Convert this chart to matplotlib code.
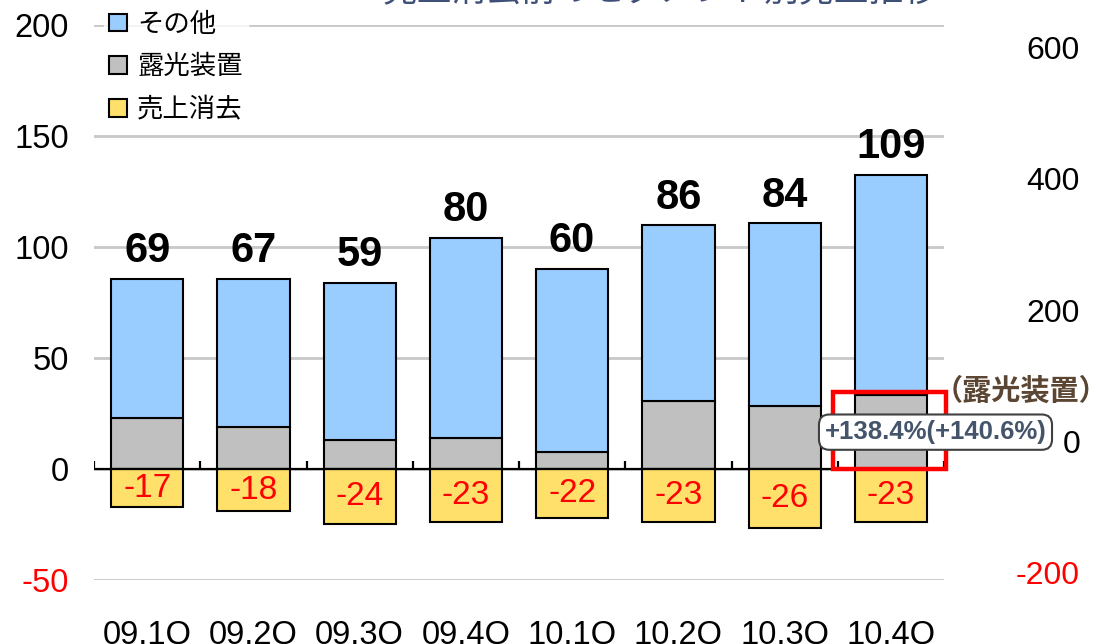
import matplotlib
matplotlib.use("Agg")
import matplotlib.pyplot as plt
import numpy as np
from matplotlib.patches import Patch, Rectangle

plt.rcParams['font.family'] = ['Liberation Sans', 'Noto Sans CJK JP', 'DejaVu Sans']

categories = ["09.1Q", "09.2Q", "09.3Q", "09.4Q", "10.1Q", "10.2Q", "10.3Q", "10.4Q"]
exposure = [22.9, 19.1, 13.2, 14.1, 7.8, 30.5, 28.4, 33.2]
other = [62.9, 66.7, 70.8, 90.1, 82.4, 79.2, 82.2, 99.2]
elimination = [-17.2, -19.1, -24.8, -23.8, -22.1, -23.8, -26.8, -23.8]
total_labels = ["69", "67", "59", "80", "60", "86", "84", "109"]
elim_labels = ["-17", "-18", "-24", "-23", "-22", "-23", "-26", "-23"]
series_names = ["その他", "露光装置", "売上消去"]
left_ticks = [-50, 0, 50, 100, 150, 200]
right_ticks = [-200, 0, 200, 400, 600]
growth_text = "+138.4%(+140.6%)"

c_other = "#99CCFF"
c_exp = "#C0C0C0"
c_elim = "#FFE06A"

fig = plt.figure(figsize=(11, 6.44), dpi=100)
ax = fig.add_axes([94/1100, 64/644, 850/1100, 555/644])
x = np.arange(len(categories))
w = 0.68

ax.bar(x, exposure, w, color=c_exp, edgecolor="black", linewidth=1.5, zorder=3)
ax.bar(x, other, w, bottom=exposure, color=c_other, edgecolor="black", linewidth=1.5, zorder=3)
ax.bar(x, elimination, w, color=c_elim, edgecolor="black", linewidth=1.5, zorder=3)

ax.set_xlim(-0.5, len(categories) - 0.5)
ax.set_ylim(-50, 200)
ax.set_yticks(left_ticks)
ax.set_yticklabels([str(t) for t in left_ticks])
for lbl, t in zip(ax.get_yticklabels(), left_ticks):
    lbl.set_color("red" if t < 0 else "black")
ax.tick_params(axis='y', length=0, pad=18, labelsize=23.5)
ax.set_xticks(x)
ax.set_xticklabels(categories)
ax.tick_params(axis='x', length=0, pad=29, labelsize=23.5)
for s in ax.spines.values():
    s.set_visible(False)
ax.yaxis.grid(True, color="#C8C8C8", linewidth=2)
ax.set_axisbelow(True)

# zero axis line with boundary ticks
ax.axhline(0, color="black", linewidth=1.6, zorder=4)
ax.vlines(np.arange(len(categories) + 1) - 0.5, 0, 3.6, color="black", linewidth=1.6, zorder=4)

# labels
for i in x:
    top = exposure[i] + other[i]
    ax.text(i, top + 3.5, total_labels[i], ha='center', va='bottom', fontsize=30,
            fontweight='bold', zorder=6)
    ax.text(i, elimination[i] / 2, elim_labels[i], ha='center', va='center', fontsize=24,
            color="red", zorder=6)

# legend
handles = [Patch(facecolor=c, edgecolor="black", linewidth=1.5) for c in (c_other, c_exp, c_elim)]
leg = ax.legend(handles, series_names, loc='upper left', bbox_to_anchor=(0.012, 1.032),
                frameon=True, fontsize=19, handlelength=0.65, handleheight=0.65,
                handletextpad=0.4, labelspacing=0.68, borderaxespad=0, borderpad=0.2)
leg.get_frame().set_facecolor("white")
leg.get_frame().set_edgecolor("white")
leg.set_zorder(7)

# right axis
ax2 = ax.twinx()
ax2.set_ylim(-212, 635)
ax2.set_yticks(right_ticks)
ax2.set_yticklabels([str(t) for t in right_ticks])
for lbl, t in zip(ax2.get_yticklabels(), right_ticks):
    lbl.set_color("red" if t < 0 else "black")
    lbl.set_horizontalalignment('right')
ax2.tick_params(axis='y', length=0, pad=98, labelsize=23)
for s in ax2.spines.values():
    s.set_visible(False)

# highlight on last exposure bar
last = len(categories) - 1
rect = Rectangle((last - 0.545, 0), 1.065, exposure[last] + 1.6, fill=False,
                 edgecolor="red", linewidth=3.2, zorder=8, clip_on=False)
ax.add_patch(rect)
ax2.text(last + 0.40, exposure[last] + 1.8, "（露光装置）", transform=ax.transData,
         ha='left', va='center', fontsize=21, fontweight='bold', color="#5A4632",
         zorder=9, clip_on=False)
ax2.text(last + 0.42, exposure[last] / 2, growth_text, transform=ax.transData,
         ha='center', va='center', fontsize=18.5, fontweight='bold', color="#44546A",
         zorder=10,
         bbox=dict(boxstyle="round,pad=0.22,rounding_size=0.4", facecolor="white",
                   edgecolor="#404040", linewidth=1.5))

# partially visible title (cut off at top of image)
fig.text(0.6, 1 - 1/644, "売上消去前のセグメント別売上推移", ha='center', va='baseline',
         fontsize=25, color="#3F5078")

fig.savefig("out.png", dpi=100)
